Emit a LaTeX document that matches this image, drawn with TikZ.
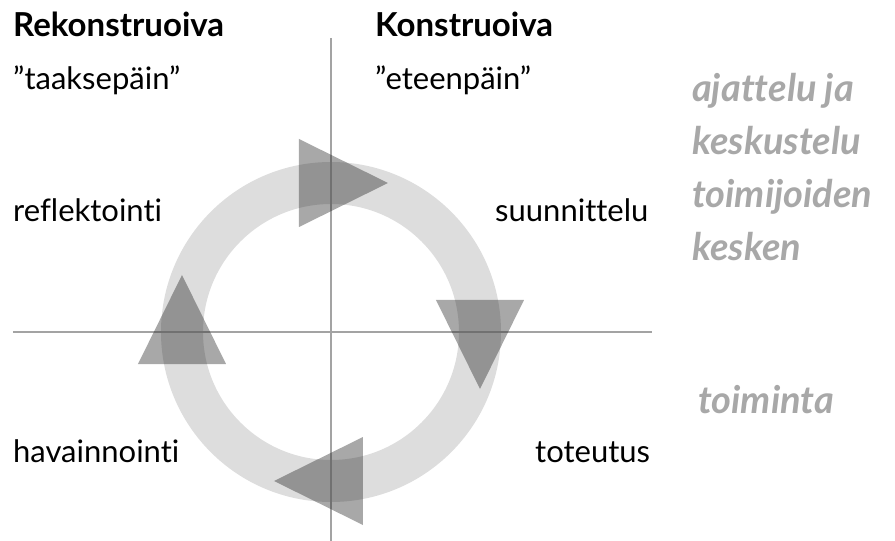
\documentclass[tikz,border=0pt]{standalone}
\usepackage{fontspec}
\setmainfont{Lato}[Ligatures=NoCommon]
\definecolor{axisgray}{HTML}{A3A3A3}
\definecolor{ringgray}{HTML}{DDDDDD}
\definecolor{talkgray}{HTML}{A8A8A8}
\begin{document}
\begin{tikzpicture}
  [x=1pt,y=1pt,
  axis/.style={draw=axisgray, line width=2.5pt},
  ring/.style={draw=ringgray, line width=42pt},
  turn/.style={fill=black!83, fill opacity=0.41},
  label/.style={inner sep=0pt, anchor=base west, font=\fontsize{31}{36}\selectfont},
  head/.style={label, font=\fontsize{33}{38}\selectfont\bfseries},
  talk/.style={label, text=talkgray, font=\fontsize{38}{44}\selectfont\bfseries\itshape}]
  \def \radius {149pt}
  \useasboundingbox (-331,-209) rectangle (564,332);

  % ring and the two axes
  \draw[ring] (0,0) circle (\radius);
  \coordinate (west) at (-318,0);
  \coordinate (east) at (321,0);
  \coordinate (north) at (0,294);
  \coordinate (south) at (0,-209);
  \draw[axis] (west) -- (east);
  \draw[axis] (north) -- (south);

  % arrow heads going round clockwise
  \foreach \a in {90,0,-90,180}
  {
    \fill[turn, shift={(\a:\radius)}, rotate=\a-90]
      (-32pt,44pt) -- (-32pt,-44pt) -- (57pt,0pt) -- cycle;
  }

  \node[head] (rekon) at (-318,295) {Rekonstruoiva};
  \node[head] (konstr) at (44,295) {Konstruoiva};
  \node[label] (back) at (-318,242) {”taaksepäin”};
  \node[label] (fwd) at (44,242) {”eteenpäin”};
  \node[label] (refl) at (-318,110) {reflektointi};
  \node[label] (plan) at (164,110) {suunnittelu};
  \node[label] (obs) at (-318,-130) {havainnointi};
  \node[label] (impl) at (204,-130) {toteutus};

  \foreach \w [count=\i] in {ajattelu ja, keskustelu, toimijoiden, kesken}
    \node[talk] (talk\i) at (361,{230-53*(\i-1)}) {\w};
  \node[talk] (act) at (367,-81) {toiminta};
\end{tikzpicture}
\end{document}
